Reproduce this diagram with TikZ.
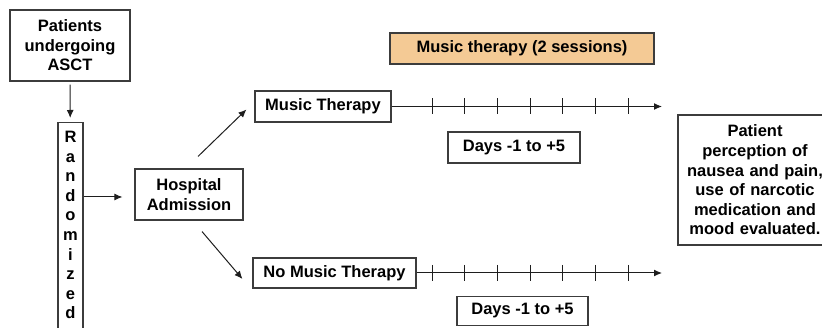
\documentclass[tikz,border=0pt]{standalone}
\usepackage{fontspec}
\setmainfont{Liberation Sans}
\usepackage{xcolor}
\usepackage{tikz}
\usetikzlibrary{arrows.meta,positioning,calc}
\definecolor{boxline}{HTML}{3C3C3C}
\definecolor{arrcol}{HTML}{1E1E1E}
\definecolor{sessfill}{HTML}{F4CA95}

\begin{document}
\begin{tikzpicture}[x=1pt,y=-1pt,
  font=\fontsize{16.5}{19.6}\selectfont\bfseries,
  box/.style={draw=boxline,line width=1.1pt,fill=white,inner sep=0pt,
              align=center,minimum height=31pt},
  arr/.style={arrcol,line width=1pt,-{Latex[length=8pt,width=7pt]}},
  tick/.style={arrcol,line width=1pt},
]
\useasboundingbox (0,0) rectangle (822,328);
\clip (0,0) rectangle (822,328);

% enrolment and randomisation
\node[box,minimum width=120pt,minimum height=71pt] (pat) at (70,45.5)
  {Patients\\undergoing\\ASCT};
\node[box,minimum width=25pt,inner ysep=8.5pt,anchor=north] (rand) at (70.5,122)
  {R\\a\\n\\d\\o\\m\\i\\z\\e\\d\\~};
\node[box,minimum width=108pt,minimum height=51pt] (hosp) at (189,194.5)
  {Hospital\\Admission};

% the two arms
\node[box,minimum width=136pt] (mt) at (323,106.5) {Music Therapy};
\node[box,minimum width=163pt,minimum height=30pt] (nomt) at (334.5,273)
  {No Music Therapy};
\node[box,fill=sessfill,minimum width=264pt] (sess) at (522,48.5)
  {Music therapy (2 sessions)};
\node[box,minimum width=132pt] (days1) at (514,147.5) {Days -1 to +5};
\node[box,minimum width=131pt,minimum height=29pt] (days2) at (522.5,311)
  {Days -1 to +5};

% outcome (its right side runs off the picture)
\node[box,minimum width=154pt,minimum height=130pt,text width=154pt] (out) at (755,180)
  {Patient\\perception of\\nausea and pain,\\use of narcotic\\medication and\\mood evaluated.};

\draw[arr,shorten <=3pt,shorten >=4pt] (pat) -- (rand);
\draw[arr,shorten >=12pt] ([yshift=-2.5pt]rand.east |- hosp.west) -- ([yshift=-2.5pt]hosp.west);
\draw[arr] ([xshift=9pt,yshift=12pt]hosp.north) -- ([xshift=-8pt,yshift=-3pt]mt.west);
\draw[arr] ([xshift=13pt,yshift=-11pt]hosp.south) -- ([xshift=-10pt,yshift=-6pt]nomt.west);

% day axes
\coordinate (mtend) at (662,106.5);
\coordinate (nomtend) at (662,273);
\draw[arr] (mt.east) -- (mtend);
\draw[arr] (nomt.east) -- (nomtend);
\foreach \tx in {432,464.7,497.3,530,562.7,595.3,628} {
  \draw[tick] (\tx,98.5) -- (\tx,114.5);
  \draw[tick] (\tx,265) -- (\tx,281);
}
\end{tikzpicture}
\end{document}
